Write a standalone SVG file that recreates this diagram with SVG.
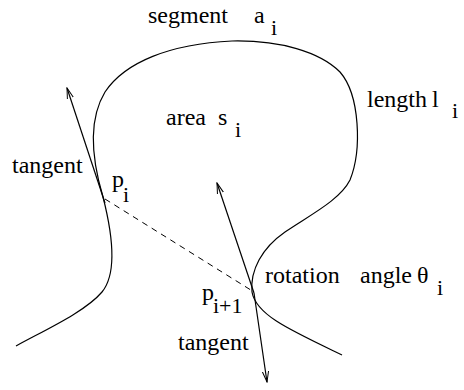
<svg xmlns="http://www.w3.org/2000/svg" width="464" height="390" viewBox="0 0 464 390">
<style>
text{font-family:'Liberation Serif','DejaVu Serif',serif;font-size:24px;fill:#000}
.sub{font-size:22px}
.ln{fill:none;stroke:#000;stroke-width:1.2}
.dash{fill:none;stroke:#000;stroke-width:1;stroke-dasharray:6 5}
</style>
<defs>
<marker id="ah" viewBox="0 0 12 8" refX="11" refY="4" markerWidth="12" markerHeight="8" markerUnits="userSpaceOnUse" orient="auto">
<path d="M0,0.8 L11,4 L0,7.2" fill="none" stroke="#000" stroke-width="1"/>
</marker>
</defs>
<rect width="464" height="390" fill="#fff"/>
<g id="curve">
<path class="ln" d="M16,346 C45,330 85,312 102,292 C116,275 114,240 103,197 C92,160 88,120 105,92 C125,62 170,44 232,41 C280,40 320,52 340,72 C360,95 362,150 350,180 C340,200 310,215 285,232 C262,248 250,270 252,292 C256,315 290,330 342,355"/>
</g>
<g id="connectors">
<line class="dash" x1="105" y1="199" x2="254" y2="292"/>
<line class="ln" x1="105" y1="203" x2="67" y2="88" marker-end="url(#ah)"/>
<line class="ln" x1="254" y1="293" x2="217" y2="183" marker-end="url(#ah)"/>
<line class="ln" x1="254" y1="293" x2="267" y2="382" marker-end="url(#ah)"/>
</g>
<g id="labels" font-family="Liberation Serif, serif">
<text x="148" y="23">segment</text><text x="254" y="23">a</text><text class="sub" x="271" y="35">i</text>
<text x="166" y="125">area</text><text x="218" y="125">s</text><text class="sub" x="235" y="137">i</text>
<text x="367" y="107">length</text><text x="432" y="107">l</text><text class="sub" x="452" y="118">i</text>
<text x="12" y="173">tangent</text>
<text x="112" y="187">p</text><text class="sub" x="123" y="202">i</text>
<text x="202" y="300">p</text><text class="sub" x="213" y="313">i+1</text>
<text x="178" y="350">tangent</text>
<text x="265" y="283">rotation</text><text x="360" y="283">angle</text><text x="417" y="283">θ</text><text class="sub" x="437" y="295">i</text>
</g>
</svg>
